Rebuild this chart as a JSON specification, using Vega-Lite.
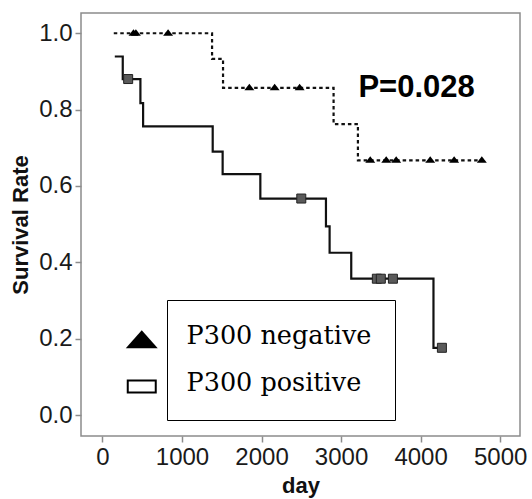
{
  "$schema": "https://vega.github.io/schema/vega-lite/v6.json",
  "width": 439,
  "height": 423,
  "autosize": "none",
  "padding": {"left": 81, "top": 13, "right": 12, "bottom": 63},
  "background": "white",
  "config": {
    "view": {"stroke": "#8c8c8c", "strokeWidth": 1.5},
    "axis": {
      "grid": false,
      "domain": false,
      "tickColor": "#8c8c8c",
      "tickSize": 6,
      "tickWidth": 1.5,
      "labelFont": "Liberation Sans",
      "labelFontSize": 24,
      "labelColor": "#1a1a1a",
      "titleFont": "Liberation Sans",
      "titleFontSize": 22,
      "titleFontWeight": "bold",
      "titleColor": "#111111"
    }
  },
  "datasets": {
    "curves": [
      {"group": "P300 negative", "day": 142, "surv": 1.0},
      {"group": "P300 negative", "day": 1378, "surv": 0.933},
      {"group": "P300 negative", "day": 1516, "surv": 0.857},
      {"group": "P300 negative", "day": 2906, "surv": 0.762},
      {"group": "P300 negative", "day": 3212, "surv": 0.667},
      {"group": "P300 negative", "day": 4770, "surv": 0.667},
      {"group": "P300 positive", "day": 155, "surv": 0.939},
      {"group": "P300 positive", "day": 255, "surv": 0.88},
      {"group": "P300 positive", "day": 477, "surv": 0.817},
      {"group": "P300 positive", "day": 511, "surv": 0.756},
      {"group": "P300 positive", "day": 1386, "surv": 0.69},
      {"group": "P300 positive", "day": 1511, "surv": 0.631},
      {"group": "P300 positive", "day": 1985, "surv": 0.567},
      {"group": "P300 positive", "day": 2810, "surv": 0.494},
      {"group": "P300 positive", "day": 2856, "surv": 0.425},
      {"group": "P300 positive", "day": 3128, "surv": 0.357},
      {"group": "P300 positive", "day": 4162, "surv": 0.176},
      {"group": "P300 positive", "day": 4268, "surv": 0.176}
    ],
    "censored": [
      {"group": "P300 negative", "day": 390, "surv": 1.0},
      {"group": "P300 negative", "day": 420, "surv": 1.0},
      {"group": "P300 negative", "day": 825, "surv": 1.0},
      {"group": "P300 negative", "day": 1847, "surv": 0.857},
      {"group": "P300 negative", "day": 2165, "surv": 0.857},
      {"group": "P300 negative", "day": 2479, "surv": 0.857},
      {"group": "P300 negative", "day": 3367, "surv": 0.667},
      {"group": "P300 negative", "day": 3568, "surv": 0.667},
      {"group": "P300 negative", "day": 3693, "surv": 0.667},
      {"group": "P300 negative", "day": 4121, "surv": 0.667},
      {"group": "P300 negative", "day": 4422, "surv": 0.667},
      {"group": "P300 negative", "day": 4770, "surv": 0.667},
      {"group": "P300 positive", "day": 323, "surv": 0.88},
      {"group": "P300 positive", "day": 2500, "surv": 0.567},
      {"group": "P300 positive", "day": 3450, "surv": 0.357},
      {"group": "P300 positive", "day": 3500, "surv": 0.357},
      {"group": "P300 positive", "day": 3652, "surv": 0.357},
      {"group": "P300 positive", "day": 4268, "surv": 0.176}
    ]
  },
  "layer": [
    {
      "data": {"name": "curves"},
      "mark": {"type": "line", "interpolate": "step-after", "strokeWidth": 2.2, "color": "#111111"},
      "encoding": {
        "x": {
          "field": "day", "type": "quantitative",
          "scale": {"domain": [-270, 5250], "nice": false, "zero": false},
          "axis": {"values": [0, 1000, 2000, 3000, 4000, 5000], "format": "d", "title": "day", "labelPadding": 3, "titlePadding": 6}
        },
        "y": {
          "field": "surv", "type": "quantitative",
          "scale": {"domain": [-0.055, 1.053], "nice": false, "zero": false},
          "axis": {"values": [0, 0.2, 0.4, 0.6, 0.8, 1], "format": ".1f", "title": "Survival Rate", "labelPadding": 3, "titlePadding": 6}
        },
        "detail": {"field": "group"},
        "strokeDash": {
          "field": "group", "type": "nominal",
          "scale": {"range": [[3.5, 3], [1, 0]]},
          "legend": null
        }
      }
    },
    {
      "data": {"name": "censored"},
      "transform": [{"filter": "datum.group === 'P300 positive'"}],
      "mark": {"type": "point", "shape": "square", "filled": true, "size": 81, "fill": "#5a5a5a", "stroke": "#222222", "strokeWidth": 1, "opacity": 1},
      "encoding": {
        "x": {"field": "day", "type": "quantitative"},
        "y": {"field": "surv", "type": "quantitative"}
      }
    },
    {
      "data": {"name": "censored"},
      "transform": [{"filter": "datum.group === 'P300 negative'"}],
      "mark": {"type": "point", "shape": "M0,-0.8L1,0.5L-1,0.5Z", "filled": true, "size": 100, "fill": "black", "opacity": 1},
      "encoding": {
        "x": {"field": "day", "type": "quantitative"},
        "y": {"field": "surv", "type": "quantitative"}
      }
    },
    {
      "data": {"name": "censored"},
      "transform": [{"filter": "false"}],
      "mark": {"type": "point", "filled": true, "fill": "black", "opacity": 1},
      "encoding": {
        "x": {"field": "day", "type": "quantitative"},
        "y": {"field": "surv", "type": "quantitative"},
        "shape": {
          "field": "group", "type": "nominal",
          "scale": {
            "domain": ["P300 negative", "P300 positive"],
            "range": ["M0,-0.55L1.6,1.25L-1.6,1.25Z", "M-1.5,-0.32H1.5V1.08H-1.5ZM-1.3,-0.12V0.88H1.3V-0.12Z"]
          },
          "legend": {
            "title": null,
            "orient": "none",
            "legendX": 86,
            "legendY": 287,
            "strokeColor": "black",
            "padding": 23,
            "symbolSize": 400,
            "symbolFillColor": "black",
            "symbolStrokeWidth": 0,
            "symbolOpacity": 1,
            "symbolOffset": -61,
            "labelOffset": 32,
            "rowPadding": 20,
            "labelLimit": 400,
            "labelFont": "DejaVu Serif",
            "labelFontSize": 25.5,
            "labelColor": "black",
            "labelBaseline": "middle",
            "labelExpr": "datum.label + '\u00a0'"
          }
        }
      }
    },
    {
      "data": {"values": [{"label": "P=0.028"}]},
      "mark": {"type": "text", "font": "Liberation Sans", "fontSize": 31, "fontWeight": "bold", "color": "black", "align": "center", "baseline": "middle"},
      "encoding": {
        "text": {"field": "label"},
        "x": {"datum": 3950},
        "y": {"datum": 0.856}
      }
    }
  ]
}
